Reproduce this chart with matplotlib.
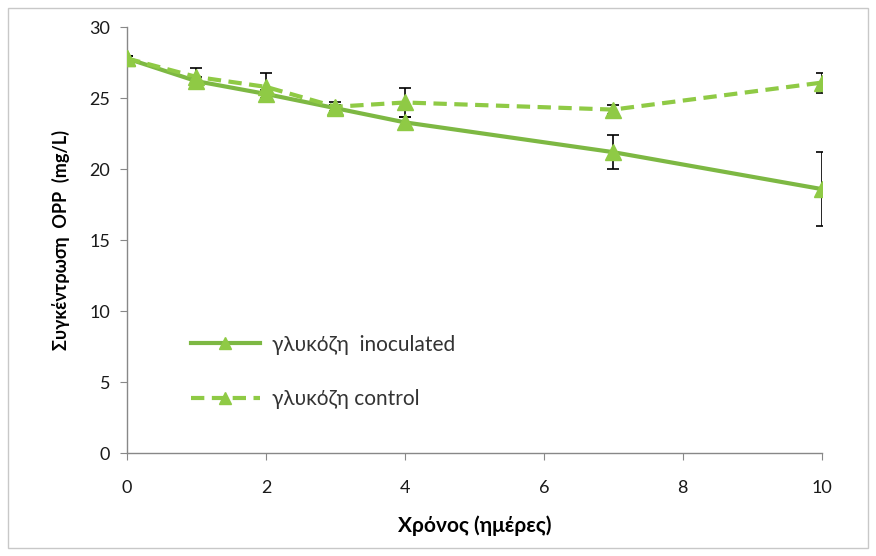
import matplotlib
matplotlib.use("Agg")
import matplotlib.pyplot as plt
from matplotlib.patches import Rectangle
from matplotlib.lines import Line2D

plt.rcParams['font.family'] = ['Lato', 'DejaVu Sans']

days = [0, 1, 2, 3, 4, 7, 10]
inoculated = [27.8, 26.2, 25.3, 24.3, 23.3, 21.2, 18.6]
inoculated_err = [0.2, 0.3, 0.3, 0.2, 0.4, 1.2, 2.6]
control = [27.8, 26.5, 25.8, 24.4, 24.7, 24.2, 26.1]
control_err = [0.2, 0.6, 1.0, 0.3, 1.0, 0.3, 0.7]

labels = ['γλυκόζη  inoculated', 'γλυκόζη control']
xticks = [0, 2, 4, 6, 8, 10]
yticks = [0, 5, 10, 15, 20, 25, 30]

line_color = '#7db843'
marker_color = '#8fca45'
dash = (0, (3.2, 1.8))

fig = plt.figure(figsize=(8.76, 5.56), dpi=100)
fig.patches.append(Rectangle((0.009, 0.014), 0.982, 0.972, transform=fig.transFigure,
                             fill=False, edgecolor='#c8c8c8', linewidth=1.0))
ax = fig.add_axes([0.145, 0.185, 0.793, 0.766])

ax.errorbar(days, inoculated, yerr=inoculated_err, color=line_color, linewidth=3,
            marker='^', markersize=11, markerfacecolor=marker_color,
            markeredgecolor=marker_color, ecolor='black', elinewidth=1.2,
            capsize=4, capthick=1.2, zorder=3)
ax.errorbar(days, control, yerr=control_err, color=marker_color, linewidth=3,
            linestyle=dash, marker='^', markersize=11,
            markerfacecolor=marker_color, markeredgecolor=marker_color,
            ecolor='black', elinewidth=1.2, capsize=4, capthick=1.2, zorder=3)

ax.set_xlim(0, 10)
ax.set_ylim(0, 30)
ax.set_xticks(xticks)
ax.set_yticks(yticks)
ax.spines['top'].set_visible(False)
ax.spines['right'].set_visible(False)
for s in ('left', 'bottom'):
    ax.spines[s].set_color('#888888')
    ax.spines[s].set_linewidth(1.0)
ax.tick_params(axis='both', direction='out', length=5, color='#888888',
               labelsize=13, labelcolor='#1a1a1a')
ax.tick_params(axis='x', pad=14)
ax.tick_params(axis='y', pad=7)
ax.set_xlabel('Χρόνος (ημέρες)', fontsize=15, fontweight='bold', labelpad=14)
ax.set_ylabel('Συγκέντρωση  OPP  (mg/L)', fontsize=13, fontweight='bold', labelpad=14)

handles = [
    Line2D([], [], color=line_color, linewidth=3, marker='^', markersize=8,
           markerfacecolor=marker_color, markeredgecolor=marker_color),
    Line2D([], [], color=marker_color, linewidth=3, linestyle=dash, marker='^',
           markersize=8, markerfacecolor=marker_color, markeredgecolor=marker_color),
]
leg = ax.legend(handles, labels, loc='upper left', bbox_to_anchor=(0.065, 0.322),
                frameon=False, fontsize=15, handlelength=3.3, labelspacing=1.65,
                handletextpad=0.6)
for t in leg.get_texts():
    t.set_color('#333333')

fig.savefig('out.png', dpi=100)
